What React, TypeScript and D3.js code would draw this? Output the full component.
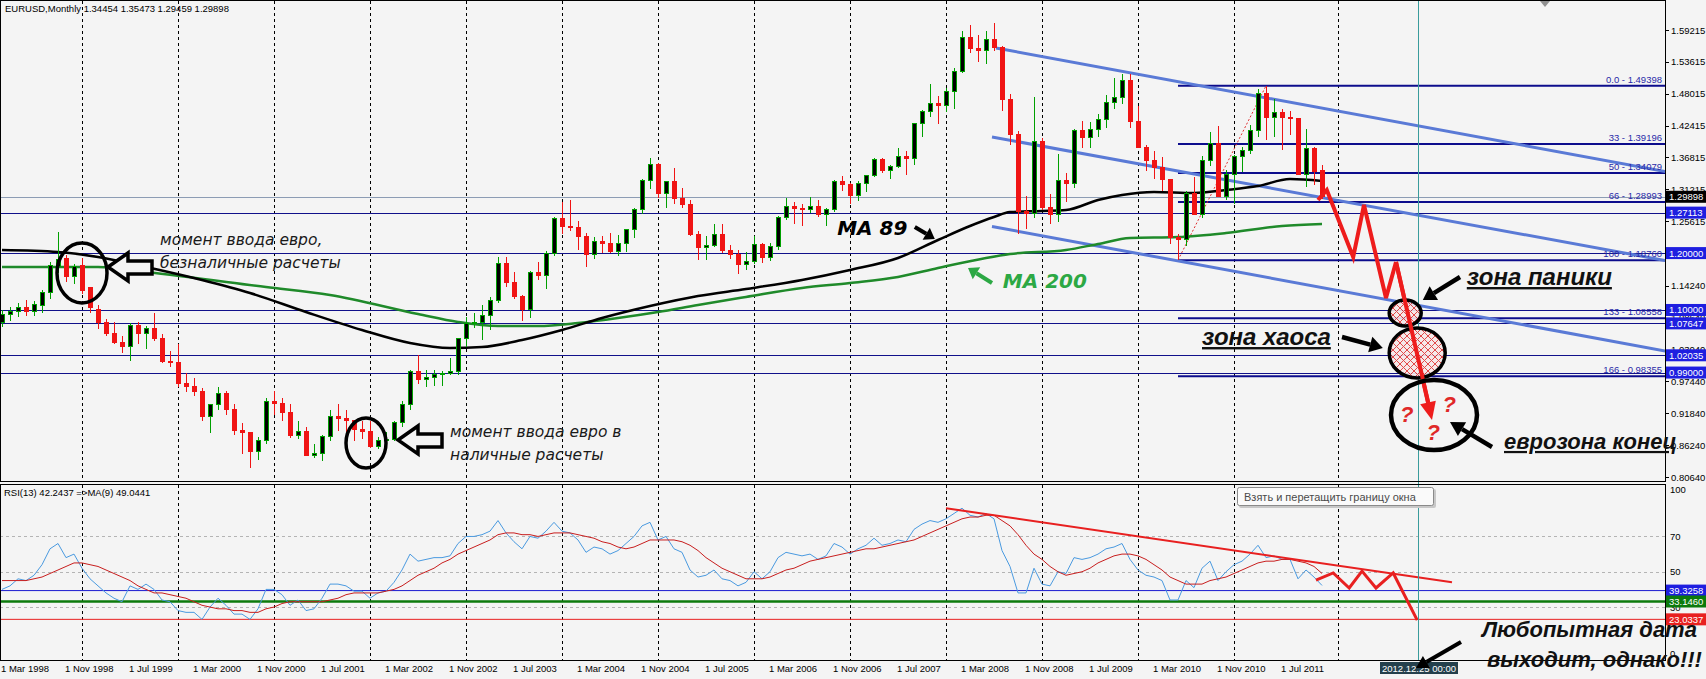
import React, { useRef, useEffect } from 'react';
import * as d3 from 'd3';

// monthly EURUSD candles [open, high, low, close], first bar = Mar 1998
const bars1998 = [
  [1.078, 1.100, 1.070, 1.092], [1.092, 1.105, 1.080, 1.098], [1.098, 1.112, 1.088, 1.104], [1.104, 1.118, 1.090, 1.097],
  [1.097, 1.115, 1.090, 1.109], [1.107, 1.135, 1.095, 1.130], [1.130, 1.185, 1.120, 1.179], [1.176, 1.237, 1.165, 1.188],
  [1.191, 1.196, 1.150, 1.158], [1.158, 1.180, 1.145, 1.176],
];
const bars1999 = [
  [1.179, 1.191, 1.128, 1.135], [1.139, 1.141, 1.095, 1.105], [1.100, 1.108, 1.066, 1.078], [1.078, 1.085, 1.055, 1.058],
  [1.058, 1.078, 1.040, 1.042], [1.042, 1.055, 1.025, 1.035], [1.035, 1.077, 1.011, 1.072], [1.072, 1.078, 1.040, 1.058],
  [1.058, 1.071, 1.032, 1.068], [1.068, 1.095, 1.045, 1.050], [1.050, 1.058, 1.007, 1.010], [1.010, 1.028, 1.000, 1.007],
];
const bars2000 = [
  [1.007, 1.040, 0.965, 0.970], [0.970, 0.990, 0.956, 0.965], [0.965, 0.980, 0.949, 0.957], [0.957, 0.962, 0.905, 0.912],
  [0.912, 0.935, 0.884, 0.933], [0.933, 0.965, 0.925, 0.954], [0.954, 0.957, 0.915, 0.925], [0.925, 0.935, 0.880, 0.888],
  [0.888, 0.902, 0.846, 0.884], [0.884, 0.886, 0.823, 0.851], [0.851, 0.876, 0.836, 0.871], [0.871, 0.945, 0.865, 0.939],
];
const bars2001 = [
  [0.939, 0.958, 0.915, 0.935], [0.935, 0.945, 0.905, 0.920], [0.920, 0.935, 0.875, 0.880], [0.880, 0.905, 0.873, 0.887],
  [0.887, 0.895, 0.843, 0.845], [0.845, 0.865, 0.840, 0.848], [0.848, 0.880, 0.834, 0.877], [0.877, 0.925, 0.870, 0.912],
  [0.912, 0.935, 0.888, 0.909], [0.909, 0.925, 0.885, 0.905], [0.905, 0.907, 0.870, 0.890], [0.890, 0.905, 0.873, 0.886],
];
const bars2002 = [
  [0.886, 0.905, 0.857, 0.860], [0.860, 0.877, 0.856, 0.870], [0.870, 0.885, 0.860, 0.872], [0.872, 0.905, 0.870, 0.902],
  [0.902, 0.940, 0.895, 0.934], [0.934, 0.995, 0.925, 0.991], [0.991, 1.020, 0.970, 0.978], [0.978, 0.995, 0.965, 0.981],
  [0.981, 0.995, 0.967, 0.987], [0.987, 0.992, 0.966, 0.989], [0.989, 1.015, 0.985, 0.992], [0.992, 1.050, 0.985, 1.049],
];
const bars2003 = [
  [1.049, 1.087, 1.035, 1.077], [1.077, 1.094, 1.069, 1.078], [1.078, 1.108, 1.048, 1.091], [1.091, 1.122, 1.065, 1.117],
  [1.117, 1.193, 1.113, 1.181], [1.181, 1.193, 1.140, 1.149], [1.149, 1.167, 1.120, 1.124], [1.124, 1.127, 1.081, 1.100],
  [1.100, 1.168, 1.086, 1.165], [1.165, 1.184, 1.153, 1.160], [1.160, 1.203, 1.137, 1.199], [1.199, 1.264, 1.195, 1.260],
];
const bars2004 = [
  [1.260, 1.290, 1.233, 1.246], [1.246, 1.293, 1.238, 1.245], [1.245, 1.257, 1.205, 1.230], [1.230, 1.236, 1.175, 1.197],
  [1.197, 1.229, 1.190, 1.220], [1.220, 1.230, 1.201, 1.216], [1.216, 1.236, 1.200, 1.202], [1.202, 1.232, 1.195, 1.217],
  [1.217, 1.243, 1.202, 1.241], [1.241, 1.280, 1.226, 1.276], [1.276, 1.330, 1.268, 1.328], [1.328, 1.367, 1.313, 1.355],
];
const bars2005 = [
  [1.355, 1.358, 1.296, 1.305], [1.305, 1.327, 1.279, 1.325], [1.325, 1.349, 1.286, 1.296], [1.296, 1.314, 1.280, 1.286],
  [1.286, 1.293, 1.230, 1.233], [1.233, 1.238, 1.187, 1.210], [1.210, 1.230, 1.187, 1.213], [1.213, 1.252, 1.211, 1.233],
  [1.233, 1.251, 1.200, 1.205], [1.205, 1.215, 1.189, 1.198], [1.198, 1.206, 1.164, 1.180], [1.180, 1.202, 1.170, 1.185],
];
const bars2006 = [
  [1.185, 1.230, 1.180, 1.215], [1.215, 1.217, 1.183, 1.193], [1.193, 1.218, 1.186, 1.212], [1.212, 1.265, 1.206, 1.262],
  [1.262, 1.297, 1.259, 1.282], [1.282, 1.290, 1.251, 1.279], [1.279, 1.286, 1.247, 1.276], [1.276, 1.298, 1.270, 1.282],
  [1.282, 1.293, 1.264, 1.268], [1.268, 1.280, 1.248, 1.276], [1.276, 1.328, 1.272, 1.325], [1.325, 1.336, 1.310, 1.320],
];
const bars2007 = [
  [1.320, 1.323, 1.287, 1.301], [1.301, 1.326, 1.292, 1.322], [1.322, 1.338, 1.307, 1.336], [1.336, 1.368, 1.333, 1.365],
  [1.365, 1.368, 1.340, 1.345], [1.345, 1.355, 1.330, 1.353], [1.353, 1.385, 1.350, 1.369], [1.369, 1.380, 1.338, 1.366],
  [1.366, 1.428, 1.355, 1.427], [1.427, 1.452, 1.404, 1.449], [1.449, 1.497, 1.440, 1.463], [1.463, 1.477, 1.427, 1.460],
];
const bars2008 = [
  [1.460, 1.490, 1.448, 1.484], [1.484, 1.525, 1.453, 1.519], [1.519, 1.590, 1.517, 1.579], [1.579, 1.601, 1.552, 1.559],
  [1.559, 1.584, 1.536, 1.556], [1.556, 1.590, 1.532, 1.575], [1.575, 1.604, 1.555, 1.561], [1.561, 1.564, 1.450, 1.470],
  [1.470, 1.480, 1.390, 1.409], [1.409, 1.414, 1.233, 1.273], [1.273, 1.300, 1.242, 1.270], [1.270, 1.474, 1.261, 1.397],
];
const bars2009 = [
  [1.397, 1.403, 1.275, 1.280], [1.280, 1.304, 1.251, 1.267], [1.267, 1.374, 1.255, 1.327], [1.327, 1.341, 1.289, 1.323],
  [1.323, 1.419, 1.315, 1.416], [1.416, 1.433, 1.385, 1.403], [1.403, 1.430, 1.385, 1.418], [1.418, 1.445, 1.404, 1.434],
  [1.434, 1.478, 1.420, 1.464], [1.464, 1.508, 1.454, 1.473], [1.473, 1.514, 1.462, 1.503], [1.503, 1.514, 1.420, 1.432],
];
const bars2010 = [
  [1.432, 1.458, 1.384, 1.386], [1.386, 1.390, 1.344, 1.363], [1.363, 1.380, 1.330, 1.351], [1.351, 1.369, 1.310, 1.330],
  [1.330, 1.330, 1.216, 1.227], [1.227, 1.234, 1.188, 1.224], [1.224, 1.310, 1.212, 1.305], [1.305, 1.333, 1.267, 1.268],
  [1.268, 1.371, 1.262, 1.363], [1.363, 1.412, 1.353, 1.392], [1.392, 1.424, 1.298, 1.300], [1.300, 1.346, 1.294, 1.338],
];
const bars2011 = [
  [1.338, 1.372, 1.286, 1.369], [1.369, 1.386, 1.343, 1.380], [1.380, 1.425, 1.375, 1.416], [1.416, 1.488, 1.404, 1.481],
  [1.481, 1.494, 1.399, 1.439], [1.439, 1.470, 1.404, 1.448], [1.448, 1.453, 1.382, 1.439], [1.439, 1.449, 1.407, 1.436],
  [1.436, 1.438, 1.337, 1.339], [1.339, 1.419, 1.316, 1.383], [1.383, 1.386, 1.320, 1.343], [1.34454, 1.35473, 1.29459, 1.29898],
];
const candles = [
  ...bars1998, ...bars1999, ...bars2000, ...bars2001, ...bars2002, ...bars2003, ...bars2004,
  ...bars2005, ...bars2006, ...bars2007, ...bars2008, ...bars2009, ...bars2010, ...bars2011,
];

// moving averages: [month index, price]
const ma89 = [
  [0, 1.2054], [7, 1.2019], [12, 1.1931], [18, 1.1756], [25, 1.1527], [31, 1.1299], [38, 1.0964], [45, 1.0648],
  [51, 1.042], [56, 1.0332], [60, 1.0349], [65, 1.0472], [70, 1.0648], [75, 1.0859], [81, 1.107], [87, 1.1246],
  [93, 1.1369], [100, 1.1527], [106, 1.1703], [112, 1.1914], [117, 1.223], [121, 1.2476], [124, 1.2634], [126, 1.2722],
  [130, 1.274], [133, 1.2757], [137, 1.2933], [140, 1.3021], [144, 1.3074], [149, 1.3056], [153, 1.3109], [157, 1.3179],
  [161, 1.3302], [165, 1.3267],
];
const ma200 = [
  [0, 1.1756], [12, 1.1756], [18, 1.1668], [33, 1.1404], [41, 1.1263], [52, 1.0929], [57, 1.0789], [62, 1.0718],
  [67, 1.0718], [72, 1.0771], [77, 1.0859], [82, 1.0965], [87, 1.1088], [93, 1.1228], [100, 1.1387], [106, 1.1474],
  [112, 1.158], [117, 1.1738], [123, 1.1914], [126, 1.1984], [133, 1.2054], [137, 1.216], [141, 1.2265], [147, 1.2283],
  [153, 1.2353], [160, 1.2476], [165, 1.2511],
];

// RSI(13) and its MA(9), one value per month
const rsi = [
  40, 42, 46, 45, 48, 54, 63, 66, 58, 60,
  52, 46, 42, 38, 35, 33, 42, 40, 43, 40, 34, 33,
  28, 27, 27, 23, 30, 35, 31, 26, 26, 23, 29, 40,
  40, 37, 31, 34, 28, 29, 35, 43, 43, 42, 39, 39,
  35, 38, 39, 44, 51, 60, 56, 57, 58, 58, 59, 66,
  70, 70, 71, 73, 79, 72, 67, 63, 70, 69, 73, 78,
  73, 72, 68, 61, 64, 63, 60, 62, 66, 70, 76, 78,
  68, 70, 63, 61, 51, 47, 48, 51, 46, 45, 42, 44,
  50, 46, 50, 58, 61, 60, 59, 60, 57, 59, 66, 64,
  60, 63, 65, 69, 65, 66, 68, 67, 74, 77, 79, 78,
  80, 83, 86, 82, 81, 83, 80, 62, 53, 38, 38, 52,
  43, 42, 50, 49, 58, 57, 58, 60, 63, 64, 66, 57,
  51, 48, 47, 45, 34, 34, 45, 41, 52, 56, 45, 50,
  54, 56, 60, 65, 58, 59, 57, 57, 46, 51, 47, 42.24,
];
const rsiMa = [
  45, 45, 45, 45, 46, 47, 49, 51, 53, 55,
  55, 54, 53, 51, 49, 47, 45, 42, 40, 38, 38, 37,
  36, 35, 33, 31, 30, 29, 29, 28, 28, 27, 27, 29,
  30, 32, 33, 33, 33, 33, 33, 34, 35, 37, 38, 38,
  38, 38, 39, 40, 42, 45, 48, 50, 52, 55, 57, 60,
  62, 64, 66, 68, 71, 72, 72, 71, 71, 70, 71, 72,
  72, 72, 71, 70, 69, 67, 66, 64, 63, 64, 66, 68,
  68, 68, 68, 67, 65, 62, 58, 55, 52, 50, 48, 46,
  46, 46, 47, 49, 51, 52, 54, 56, 57, 58, 59, 60,
  61, 62, 63, 63, 64, 65, 66, 67, 68, 70, 72, 74,
  76, 78, 80, 81, 81, 82, 82, 79, 76, 71, 65, 60,
  57, 53, 50, 48, 49, 50, 52, 55, 57, 59, 60, 60,
  59, 57, 54, 51, 47, 45, 43, 43, 43, 45, 46, 47,
  49, 51, 53, 55, 56, 56, 57, 57, 56, 55, 53, 49.04,
];

const timeLabels = [
  '1 Mar 1998', '1 Nov 1998', '1 Jul 1999', '1 Mar 2000', '1 Nov 2000', '1 Jul 2001', '1 Mar 2002',
  '1 Nov 2002', '1 Jul 2003', '1 Mar 2004', '1 Nov 2004', '1 Jul 2005', '1 Mar 2006', '1 Nov 2006',
  '1 Jul 2007', '1 Mar 2008', '1 Nov 2008', '1 Jul 2009', '1 Mar 2010', '1 Nov 2010', '1 Jul 2011',
];
const gridMonths = [10, 22, 34, 46, 58, 70, 82, 94, 106, 118, 130, 142, 154, 167];
const upperTicks = [1.59215, 1.53615, 1.48015, 1.42415, 1.36815, 1.31215, 1.25615];
const lowerTicks = [1.1424, 1.0864, 1.0304, 0.9744, 0.9184, 0.8624, 0.8064];
const rsiTicks = [100, 70, 50, 30, 0];

const fiboNames = ['0.0', '33', '50', '66', '100', '133', '166'];
const fiboValues = [1.49398, 1.39196, 1.34079, 1.28993, 1.1876, 1.08558, 0.98355];
const fiboFrom = [147, 1.1876];
const fiboTo = [158, 1.49398];

const bidPrice = 1.29898;
const levelLines = [1.27113, 1.2, 1.1, 1.07647, 1.02035, 0.99];
const rsiLevels = [39.3258, 33.146, 23.0337];

// trend channel: [start month, start price, end month, end price]
const channelLines = [
  [124.25, 1.5605, 207.9, 1.3434],
  [123.75, 1.4041, 207.9, 1.187],
  [123.75, 1.2467, 207.9, 1.0279],
];
const forecast = [
  [164.5, 1.2933], [165.6, 1.3109], [168.9, 1.1931], [170.25, 1.2846], [173, 1.1211], [174.25, 1.1844], [178.75, 0.9066],
];
const rsiTrend = [[118, 86], [181.25, 44]];
const rsiForecast = [[164.25, 45.3], [166.4, 49.3], [168.4, 40.8], [170, 50.4], [171.75, 40.8], [173.9, 49.3], [176.9, 22.6]];
const markerMonth = 177; // 2012.12.25

const W = 1706, H = 679;
const PR = 1665, MB = 481, RT = 484, RB = 660;
const BG = '#f4f4f4';

export default function App() {
  const ref = useRef<SVGSVGElement>(null);

  useEffect(() => {
    const svg = d3.select(ref.current);
    svg.selectAll('*').remove();

    const x = d3.scaleLinear().domain([0, 165]).range([2, 1322]);
    const y = d3.scaleLinear().domain([0.8064, 1.59215]).range([477, 30]);
    const yr = d3.scaleLinear().domain([0, 100]).range([RB, 483.5]);
    const at = (m: number, p: number) => [x(m), y(p)];

    svg.append('rect').attr('width', W).attr('height', H).attr('fill', BG);

    const defs = svg.append('defs');
    defs.append('clipPath').attr('id', 'clipMain').append('rect').attr('x', 0).attr('y', 0).attr('width', PR).attr('height', MB);
    defs.append('clipPath').attr('id', 'clipRsi').append('rect').attr('x', 0).attr('y', RT).attr('width', PR).attr('height', RB - RT);
    const pat = defs.append('pattern').attr('id', 'hatch').attr('patternUnits', 'userSpaceOnUse').attr('width', 7).attr('height', 7);
    pat.append('rect').attr('width', 7).attr('height', 7).attr('fill', '#f6e8e8');
    pat.append('path').attr('d', 'M0,0L7,7M7,0L0,7').attr('stroke', '#e03838').attr('stroke-width', 1);

    // vertical grid
    const grid = svg.append('g').attr('stroke', '#000').attr('stroke-dasharray', '3,3').attr('shape-rendering', 'crispEdges');
    gridMonths.forEach(m => {
      grid.append('line').attr('x1', x(m) + 0.5).attr('x2', x(m) + 0.5).attr('y1', 1).attr('y2', MB);
      grid.append('line').attr('x1', x(m) + 0.5).attr('x2', x(m) + 0.5).attr('y1', RT + 1).attr('y2', RB);
    });

    const main = svg.append('g').attr('clip-path', 'url(#clipMain)');

    // horizontal levels
    main.append('line').attr('x1', 0).attr('x2', PR).attr('y1', Math.round(y(bidPrice)) + 0.5).attr('y2', Math.round(y(bidPrice)) + 0.5)
      .attr('stroke', '#8c9cb4').attr('stroke-width', 1);
    main.selectAll('line.lvl').data(levelLines).join('line').attr('class', 'lvl')
      .attr('x1', 0).attr('x2', PR).attr('y1', d => Math.round(y(d)) + 0.5).attr('y2', d => Math.round(y(d)) + 0.5)
      .attr('stroke', '#10108a').attr('stroke-width', 1);

    // fibo
    main.selectAll('line.fib').data(fiboValues).join('line').attr('class', 'fib')
      .attr('x1', x(fiboFrom[0])).attr('x2', PR).attr('y1', d => y(d)).attr('y2', d => y(d))
      .attr('stroke', '#0c0c8c').attr('stroke-width', 2);
    main.append('line').attr('x1', x(fiboFrom[0])).attr('y1', y(fiboFrom[1])).attr('x2', x(fiboTo[0])).attr('y2', y(fiboTo[1]))
      .attr('stroke', '#e03030').attr('stroke-width', 1).attr('stroke-dasharray', '2,2');
    svg.selectAll('text.fib').data(fiboValues).join('text').attr('class', 'fib')
      .attr('x', PR - 3).attr('y', d => y(d) - 3).attr('text-anchor', 'end')
      .attr('font-size', 9.5).attr('fill', '#2a2aa8')
      .text((d, i) => `${fiboNames[i]} - ${d.toFixed(5)}`);

    // channel
    main.selectAll('line.ch').data(channelLines).join('line').attr('class', 'ch')
      .attr('x1', d => x(d[0])).attr('y1', d => y(d[1])).attr('x2', d => x(d[2])).attr('y2', d => y(d[3]))
      .attr('stroke', '#5a7ad6').attr('stroke-width', 3);

    // moving averages
    const maLine = d3.line<number[]>().x(d => x(d[0])).y(d => y(d[1])).curve(d3.curveMonotoneX);
    main.append('path').attr('d', maLine(ma200)).attr('fill', 'none').attr('stroke', '#1f8a2a').attr('stroke-width', 2.5);
    main.append('path').attr('d', maLine(ma89)).attr('fill', 'none').attr('stroke', '#000').attr('stroke-width', 2.5);

    // candles
    const cg = main.append('g').attr('shape-rendering', 'crispEdges');
    candles.forEach((c, i) => {
      const [o, h, l, cl] = c;
      const up = cl >= o;
      const col = up ? '#00a000' : '#f01414';
      const cx = Math.round(x(i)) + 0.5;
      cg.append('line').attr('x1', cx).attr('x2', cx).attr('y1', y(h)).attr('y2', y(l)).attr('stroke', col);
      const top = y(Math.max(o, cl)), bot = y(Math.min(o, cl));
      cg.append('rect').attr('x', cx - 2).attr('width', 4).attr('y', top).attr('height', Math.max(1, bot - top))
        .attr('fill', up ? '#000' : '#f01414').attr('stroke', col);
    });

    const ann = svg.append('g');

    const arrow = (g: any, x1: number, y1: number, x2: number, y2: number, color: string, w: number, len: number, half: number) => {
      const a = Math.atan2(y2 - y1, x2 - x1);
      const bx = x2 - len * Math.cos(a), by = y2 - len * Math.sin(a);
      g.append('line').attr('x1', x1).attr('y1', y1).attr('x2', bx).attr('y2', by).attr('stroke', color).attr('stroke-width', w);
      g.append('polygon').attr('fill', color)
        .attr('points', `${x2},${y2} ${bx + half * Math.sin(a)},${by - half * Math.cos(a)} ${bx - half * Math.sin(a)},${by + half * Math.cos(a)}`);
    };

    // red forecast zigzag
    const fLine = d3.line<number[]>().x(d => x(d[0])).y(d => y(d[1]));
    const fPts = forecast.slice(0, -1);
    ann.append('path').attr('d', fLine(fPts)).attr('fill', 'none').attr('stroke', '#ee1c1c').attr('stroke-width', 4)
      .attr('stroke-linejoin', 'miter');
    const [pm, pp] = forecast[forecast.length - 2];
    const [em, ep] = forecast[forecast.length - 1];
    arrow(ann, x(pm), y(pp), x(em), y(ep), '#ee1c1c', 4, 18, 8);

    // hatched zones
    const [zx, zy] = at(175.4, 1.0947);
    const [hx, hy] = at(176.9, 1.0244);
    ann.append('ellipse').attr('cx', hx).attr('cy', hy).attr('rx', 28).attr('ry', 25).attr('fill', 'url(#hatch)').attr('fill-opacity', 0.9)
      .attr('stroke', '#000').attr('stroke-width', 3.5);
    ann.append('ellipse').attr('cx', zx).attr('cy', zy).attr('rx', 16).attr('ry', 13).attr('fill', 'url(#hatch)').attr('fill-opacity', 0.9)
      .attr('stroke', '#000').attr('stroke-width', 3.5);
    // redraw the arrow shaft over hatched zones
    ann.append('line').attr('x1', x(forecast[5][0])).attr('y1', y(forecast[5][1])).attr('x2', x(forecast[6][0]) - 3).attr('y2', y(forecast[6][1]) - 14)
      .attr('stroke', '#ee1c1c').attr('stroke-width', 4);
    const [qx, qy] = at(179, 0.9154);
    ann.append('ellipse').attr('cx', qx).attr('cy', qy).attr('rx', 43).attr('ry', 35).attr('fill', 'none')
      .attr('stroke', '#000').attr('stroke-width', 4.5);
    [[175.6, 0.9154], [180.9, 0.933], [178.9, 0.8838]].forEach(([m, p]) => {
      ann.append('text').attr('x', x(m)).attr('y', y(p)).attr('text-anchor', 'middle').attr('dominant-baseline', 'central')
        .attr('font-size', 22).attr('font-weight', 'bold').attr('font-style', 'italic').attr('fill', '#e02828').text('?');
    });
    arrow(ann, x(182.25), y(1.158), x(177.6), y(1.1176), '#000', 4.5, 13, 8);
    arrow(ann, x(167.5), y(1.0525), x(172.6), y(1.0332), '#000', 4.5, 13, 8);
    arrow(ann, x(186.25), y(0.8592), x(181), y(0.9031), '#000', 4.5, 14, 8);

    const bigText = (m: number, p: number, s: string, size: number, color = '#111') =>
      ann.append('text').attr('x', x(m)).attr('y', y(p)).attr('font-size', size).attr('font-weight', 'bold')
        .attr('font-style', 'italic').attr('fill', color).attr('text-decoration', 'underline').text(s);
    bigText(183.1, 1.1439, 'зона паники', 24);
    bigText(150, 1.0384, 'зона хаоса', 24);
    bigText(187.75, 0.8557, 'еврозона конец', 22);

    // MA captions
    ann.append('text').attr('x', x(104.4)).attr('y', y(1.2318)).attr('font-family', '"DejaVu Sans", sans-serif')
      .attr('font-size', 20).attr('font-weight', 'bold').attr('font-style', 'italic').attr('fill', '#000').text('MA 89');
    arrow(ann, x(114.1), y(1.2459), x(116.6), y(1.2248), '#000', 4, 10, 7);
    ann.append('text').attr('x', x(125.1)).attr('y', y(1.1386)).attr('font-family', '"DejaVu Sans", sans-serif')
      .attr('font-size', 20).attr('font-weight', 'bold').attr('font-style', 'italic').attr('fill', '#2ca844').text('MA 200');
    arrow(ann, x(123.75), y(1.1474), x(120.75), y(1.1738), '#2ca844', 4, 10, 7);

    // euro introduction notes
    const blockArrow = (m: number, p: number) => {
      const [tx, ty] = at(m, p);
      const pts = [[0, 0], [20, -14], [20, -6], [44, -6], [44, 7], [20, 7], [20, 14]].map(([a, b]) => `${tx + a},${ty + b}`).join(' ');
      ann.append('polygon').attr('points', pts).attr('fill', BG).attr('stroke', '#000').attr('stroke-width', 3.5).attr('stroke-linejoin', 'miter');
    };
    const note = (m: number, p: number, lines: string[]) => {
      lines.forEach((s, k) => ann.append('text').attr('x', x(m)).attr('y', y(p) + k * 23)
        .attr('font-family', '"DejaVu Sans", sans-serif').attr('font-size', 15.5).attr('font-style', 'italic').attr('fill', '#1a1a1a').text(s));
    };
    let [c1x, c1y] = at(10, 1.165);
    ann.append('ellipse').attr('cx', c1x).attr('cy', c1y).attr('rx', 25).attr('ry', 30).attr('fill', 'none').attr('stroke', '#000').attr('stroke-width', 3.5);
    blockArrow(13.25, 1.1756);
    note(19.75, 1.2142, ['момент ввода евро,', 'безналичные расчеты']);
    [c1x, c1y] = at(45.5, 0.8662);
    ann.append('ellipse').attr('cx', c1x).attr('cy', c1y).attr('rx', 20).attr('ry', 25).attr('fill', 'none').attr('stroke', '#000').attr('stroke-width', 3.5);
    blockArrow(49.5, 0.8715);
    note(56, 0.8767, ['момент ввода евро в', 'наличные расчеты']);

    // header
    svg.append('text').attr('x', 5).attr('y', 12).attr('font-size', 9.5).attr('fill', '#000')
      .text('EURUSD,Monthly  1.34454 1.35473 1.29459 1.29898');

    // RSI panel
    const rg = svg.append('g').attr('clip-path', 'url(#clipRsi)');
    rg.selectAll('line.dl').data([70, 50, 30]).join('line').attr('class', 'dl')
      .attr('x1', 0).attr('x2', PR).attr('y1', d => Math.round(yr(d)) + 0.5).attr('y2', d => Math.round(yr(d)) + 0.5)
      .attr('stroke', '#b4b4b4').attr('stroke-dasharray', '3,3');
    const rCols = ['#1a1ad0', '#0c7a0c', '#e82020'];
    const rW = [1, 2.5, 1];
    rg.selectAll('line.rl').data(rsiLevels).join('line').attr('class', 'rl')
      .attr('x1', 0).attr('x2', PR).attr('y1', d => yr(d)).attr('y2', d => yr(d))
      .attr('stroke', (d, i) => rCols[i]).attr('stroke-width', (d, i) => rW[i]);
    const rLine = d3.line<number>().x((d, i) => x(i)).y(d => yr(d));
    rg.append('path').attr('d', rLine(rsi)).attr('fill', 'none').attr('stroke', '#4a9ae0').attr('stroke-width', 1);
    rg.append('path').attr('d', rLine(rsiMa)).attr('fill', 'none').attr('stroke', '#c81e1e').attr('stroke-width', 1);
    const pLine = d3.line<number[]>().x(d => x(d[0])).y(d => yr(d[1]));
    rg.append('path').attr('d', pLine(rsiTrend)).attr('fill', 'none').attr('stroke', '#e82020').attr('stroke-width', 2);
    rg.append('path').attr('d', pLine(rsiForecast)).attr('fill', 'none').attr('stroke', '#e82020').attr('stroke-width', 3);
    svg.append('text').attr('x', 4).attr('y', RT + 12).attr('font-size', 9.5).attr('fill', '#000')
      .text('RSI(13) 42.2437   =>MA(9) 49.0441');

    // marker line
    svg.append('line').attr('x1', x(markerMonth) + 0.5).attr('x2', x(markerMonth) + 0.5).attr('y1', 1).attr('y2', RB)
      .attr('stroke', '#3a9c9c').attr('stroke-width', 1);

    // frames
    const fr = svg.append('g').attr('fill', 'none').attr('stroke', '#000').attr('shape-rendering', 'crispEdges');
    fr.append('rect').attr('x', 0.5).attr('y', 0.5).attr('width', PR).attr('height', MB);
    fr.append('rect').attr('x', 0.5).attr('y', RT + 0.5).attr('width', PR).attr('height', RB - RT);
    svg.append('polygon').attr('points', '1540,1 1550,1 1545,7').attr('fill', '#909090');

    // price axis
    const ax = svg.append('g').attr('font-size', 9.5);
    [...upperTicks, ...lowerTicks].forEach(v => {
      ax.append('line').attr('x1', PR).attr('x2', PR + 4).attr('y1', Math.round(y(v)) + 0.5).attr('y2', Math.round(y(v)) + 0.5).attr('stroke', '#000');
      ax.append('text').attr('x', PR + 6).attr('y', y(v)).attr('dominant-baseline', 'central').attr('fill', '#000').text(v.toFixed(5));
    });
    const box = (v: number, yy: number, fill: string, label: string) => {
      ax.append('rect').attr('x', PR + 1).attr('y', yy - 6).attr('width', W - PR - 1).attr('height', 12).attr('fill', fill);
      ax.append('text').attr('x', PR + 4).attr('y', yy).attr('dominant-baseline', 'central').attr('fill', '#fff').text(label);
    };
    levelLines.forEach(v => box(v, y(v), '#1e1ee0', v.toFixed(5)));
    box(bidPrice, y(bidPrice), '#000', bidPrice.toFixed(5));

    // RSI axis
    rsiTicks.forEach(v => {
      const yy = Math.min(Math.max(yr(v), RT + 5), RB - 7);
      ax.append('text').attr('x', PR + 5).attr('y', yy).attr('dominant-baseline', 'central').attr('fill', '#000').text(v);
    });
    const rBox = ['#1e1ee0', '#0c7a0c', '#e82020'];
    rsiLevels.forEach((v, i) => box(v, yr(v), rBox[i], v.toFixed(4)));

    // time axis
    timeLabels.forEach((s, k) => {
      ax.append('text').attr('x', x(k * 8) - 1).attr('y', RB + 12).attr('fill', '#000').text(s);
    });
    const dx = x(markerMonth);
    ax.append('rect').attr('x', dx - 38).attr('y', RB + 2).attr('width', 78).attr('height', 12).attr('fill', '#24404c');
    ax.append('text').attr('x', dx + 1).attr('y', RB + 8).attr('text-anchor', 'middle').attr('dominant-baseline', 'central')
      .attr('fill', '#fff').text('2012.12.25 00:00');

    // tooltip
    const tip = svg.append('g');
    tip.append('rect').attr('x', 1239).attr('y', 489).attr('width', 197).attr('height', 19).attr('rx', 2).attr('fill', '#c8c8c8');
    tip.append('rect').attr('x', 1237.5).attr('y', 487.5).attr('width', 196).attr('height', 18).attr('rx', 2)
      .attr('fill', '#fafafa').attr('stroke', '#8a8a8a');
    tip.append('text').attr('x', 1244).attr('y', 500.5).attr('font-size', 11).attr('fill', '#4a4a4a')
      .text('Взять и перетащить границу окна');

    // closing remark
    ann.append('text').attr('x', 1482).attr('y', 637).attr('font-size', 22).attr('font-weight', 'bold').attr('font-style', 'italic')
      .attr('fill', '#111').text('Любопытная дата');
    ann.append('text').attr('x', 1487).attr('y', 667).attr('font-size', 22).attr('font-weight', 'bold').attr('font-style', 'italic')
      .attr('fill', '#111').text('выходит, однако!!!');
    arrow(ann, 1461, 642, 1416, 668, '#000', 4, 12, 7);
    svg.node()?.appendChild(ann.node() as any);
  }, []);

  return (
    <svg ref={ref} width={W} height={H}
      style={{ position: 'absolute', left: 0, top: 0, fontFamily: '"Liberation Sans", Arial, sans-serif' }} />
  );
}
